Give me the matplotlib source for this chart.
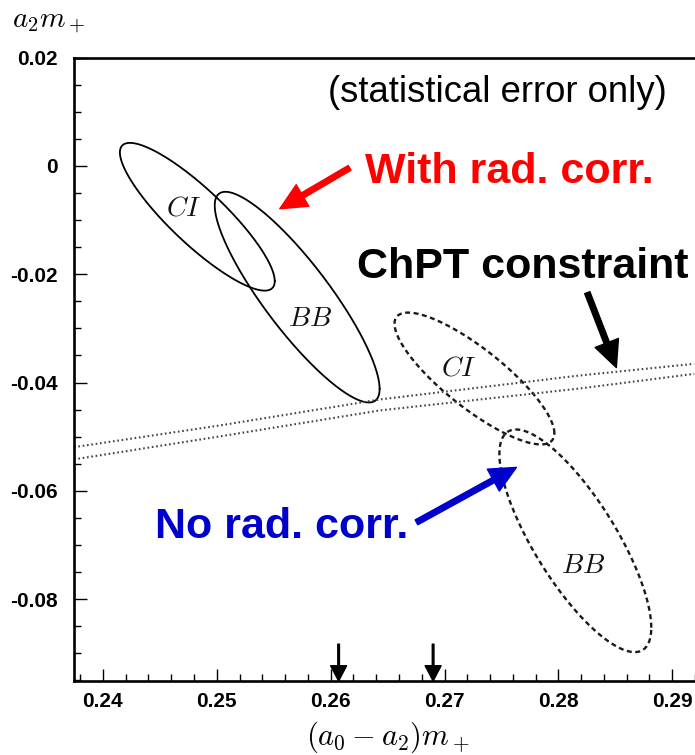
import numpy as np
import matplotlib
matplotlib.use("Agg")
import matplotlib.pyplot as plt
from matplotlib.ticker import MultipleLocator

plt.rcParams["mathtext.fontset"] = "cm"
plt.rcParams["axes.unicode_minus"] = False

# --- fit results: 1-sigma contours in the (a0-a2)m+, a2m+ plane ---
fit_names = ["CI", "BB", "CI", "BB"]
fit_rad_corr = [True, True, False, False]
center_x = [0.24829, 0.25706, 0.27263, 0.28149]
center_y = [-0.0094, -0.02424, -0.03926, -0.06922]
sigma_x = [0.0068, 0.00724, 0.00702, 0.00667]
sigma_y = [0.01364, 0.01945, 0.01217, 0.02055]
correlation = [-0.87, -0.87, -0.83, -0.78]
label_x = [0.24711, 0.25816, 0.27123, 0.28215]
label_y = [-0.00774, -0.02811, -0.03724, -0.07364]

# --- ChPT constraint band (two edges) ---
chpt_x = [0.23746, 0.25026, 0.26430, 0.28184, 0.29193]
chpt_upper = [-0.05193, -0.04793, -0.04313, -0.03871, -0.03655]
chpt_lower = [-0.05419, -0.04995, -0.04516, -0.04111, -0.03840]

# --- theoretical reference values marked on the x axis ---
marker_x = [0.2607, 0.2690]

x_ticks = [0.24, 0.25, 0.26, 0.27, 0.28, 0.29]
x_tick_labels = ["0.24", "0.25", "0.26", "0.27", "0.28", "0.29"]
y_ticks = [-0.08, -0.06, -0.04, -0.02, 0.0, 0.02]
y_tick_labels = ["-0.08", "-0.06", "-0.04", "-0.02", "0", "0.02"]

fig = plt.figure(figsize=(6.95, 7.55), dpi=100)
ax = fig.add_axes([74 / 695, 1 - 681 / 755, 1 - 74 / 695, (681 - 57.5) / 755])
ax.set_xlim(0.23746, 0.2920)
ax.set_ylim(-0.0951, 0.0200)

# contours
t = np.linspace(0, 2 * np.pi, 500)
for name, rc, x0, y0, sx, sy, r, lx, ly in zip(fit_names, fit_rad_corr, center_x, center_y,
                                              sigma_x, sigma_y, correlation, label_x, label_y):
    ex = x0 + sx * np.cos(t)
    ey = y0 + sy * (r * np.cos(t) + np.sqrt(1 - r ** 2) * np.sin(t))
    if rc:
        ax.plot(ex, ey, color="black", lw=1.3, solid_capstyle="round")
    else:
        ax.plot(ex, ey, color="#1a1a1a", lw=1.7, dashes=(2.1, 1.5))
    ax.text(lx, ly, "$" + name + "$", fontsize=20, ha="center", va="center", color="#111111")

# ChPT band
for edge in (chpt_upper, chpt_lower):
    ax.plot(chpt_x, edge, color="#444444", lw=1.5, linestyle=(0, (0.8, 1.3)))

# reference value markers
for mx in marker_x:
    ax.annotate("", xy=(mx, -0.0951), xytext=(mx, -0.0883),
                arrowprops=dict(arrowstyle="simple,head_length=1.1,head_width=1.15,tail_width=0.12",
                                color="black", mutation_scale=10, shrinkA=0, shrinkB=0),
                annotation_clip=False)

# annotations
ax.text(0.28956, 0.0118, "(statistical error only)", fontsize=26.3, ha="right", va="baseline",
        family="Liberation Sans")
ax.text(0.27570, -0.00313, "With rad. corr.", fontsize=31, fontweight="bold", color="#ff0000",
        ha="center", va="baseline", family="Liberation Sans")
ax.text(0.27684, -0.02065, "ChPT constraint", fontsize=31, fontweight="bold", color="black",
        ha="center", va="baseline", family="Liberation Sans")
ax.text(0.25570, -0.06876, "No rad. corr.", fontsize=31, fontweight="bold", color="#0000cc",
        ha="center", va="baseline", family="Liberation Sans")

big_arrow = "simple,head_length=1.9,head_width=1.8,tail_width=0.4"
ax.annotate("", xy=(0.25553, -0.00793), xytext=(0.26167, -0.00037),
            arrowprops=dict(arrowstyle=big_arrow, color="#ff0000", mutation_scale=10,
                            shrinkA=0, shrinkB=0))
ax.annotate("", xy=(0.28509, -0.03724), xytext=(0.28254, -0.02341),
            arrowprops=dict(arrowstyle=big_arrow, color="black", mutation_scale=10,
                            shrinkA=0, shrinkB=0))
ax.annotate("", xy=(0.27632, -0.05567), xytext=(0.26754, -0.06581),
            arrowprops=dict(arrowstyle=big_arrow, color="#0000cc", mutation_scale=10,
                            shrinkA=0, shrinkB=0))

# axes styling
ax.set_xticks(x_ticks, x_tick_labels)
ax.set_yticks(y_ticks, y_tick_labels)
ax.xaxis.set_minor_locator(MultipleLocator(0.002))
ax.yaxis.set_minor_locator(MultipleLocator(0.005))
ax.tick_params(which="both", direction="in", top=False, right=False, width=1.0, color="black")
ax.tick_params(which="major", length=9)
ax.tick_params(which="minor", length=5)
ax.tick_params(axis="x", which="major", pad=8)
ax.tick_params(axis="y", which="major", pad=12)
for lab in ax.get_xticklabels() + ax.get_yticklabels():
    lab.set_family("Liberation Sans")
    lab.set_fontweight("bold")
    lab.set_fontsize(15)
ax.spines["right"].set_visible(False)
for s in ("left", "bottom", "top"):
    ax.spines[s].set_linewidth(1.9)

ax.set_xlabel("$(a_0 - a_2)m_+$", fontsize=22)
ax.xaxis.set_label_coords(0.506, -0.061)
ax.set_ylabel("$a_2m_+$", fontsize=21, rotation=0, ha="left", va="baseline")
ax.yaxis.set_label_coords(-0.0998, 1.0473)

fig.savefig("out.png", dpi=100)
